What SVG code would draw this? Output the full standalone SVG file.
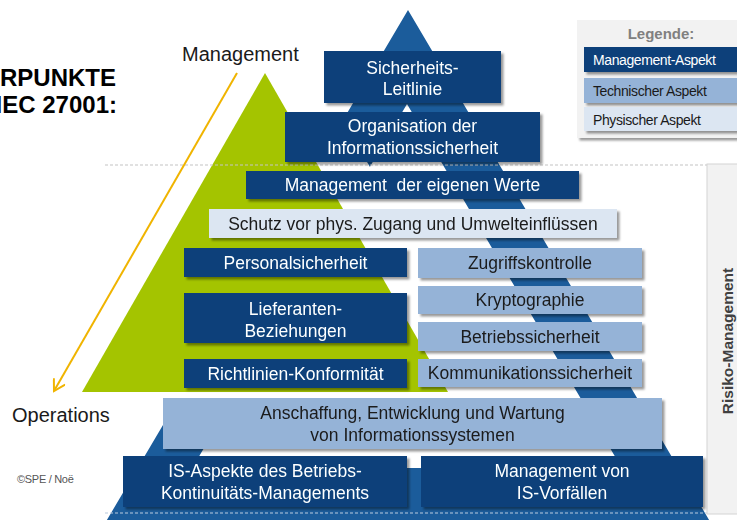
<svg xmlns="http://www.w3.org/2000/svg" width="737" height="520" viewBox="0 0 737 520">
<defs>
<style>
text{font-family:"Liberation Sans",Arial,sans-serif}
.mg{fill:#07407a}
.te{fill:#95b3d7}
.ph{fill:#dce6f2}
.box{filter:url(#sh)}
.tw{fill:#ffffff;font-size:17.5px;text-anchor:middle}
.td{fill:#1a1a1a;font-size:17.5px;text-anchor:middle}
.lg{font-size:14px;letter-spacing:-0.4px}
.dash{stroke:#c4c4c4;stroke-width:1.2;stroke-dasharray:3 2;fill:none}
</style>
<filter id="sh" x="-10%" y="-20%" width="130%" height="160%">
<feDropShadow dx="2.5" dy="2.5" stdDeviation="1.2" flood-color="#000" flood-opacity="0.4"/>
</filter>
<marker id="arr" viewBox="0 0 14 14" refX="12" refY="7" markerWidth="14" markerHeight="14" markerUnits="userSpaceOnUse" orient="auto">
<path d="M1,0.5 L12,7 L1,13.5" fill="none" stroke="#f0b400" stroke-width="2"/>
</marker>
</defs>
<rect width="737" height="520" fill="#ffffff"/>

<g id="background">
<path d="M408,10 L715,530 L101,530 Z M407,104 L621.8,468 L192.2,468 Z" fill="#1b5c9b" fill-rule="evenodd"/>
<polygon points="265,73 316,73 503.7,400 82,400 82,392" fill="#ffffff"/>
<polygon points="265,73 448,392 82,392" fill="#a4c400"/>
<line class="dash" x1="105" y1="165" x2="707" y2="165"/>
<line x1="105" y1="513" x2="707" y2="513" stroke="#b9c9dd" stroke-width="1.2" stroke-dasharray="3 2"/>
</g>

<g id="risk-panel">
<rect x="707" y="164" width="40" height="350" fill="#f2f2f2" stroke="#d4d4d4" stroke-width="1"/>
<text transform="translate(733,341) rotate(-90)" text-anchor="middle" font-size="15.5" font-weight="bold" fill="#404040">Risiko-Management</text>
</g>

<g id="connectors">
<line x1="237" y1="73" x2="54" y2="391" stroke="#f0b400" stroke-width="2" marker-end="url(#arr)"/>
</g>

<g id="labels">
<text x="116" y="86" text-anchor="end" font-size="24" font-weight="bold" fill="#000">RPUNKTE</text>
<text x="117" y="113" text-anchor="end" font-size="24" font-weight="bold" fill="#000">IEC 27001:</text>
<text x="182" y="61" font-size="20" fill="#1a1a1a">Management</text>
<text x="12" y="422" font-size="20" fill="#1a1a1a">Operations</text>
<text x="17" y="483" font-size="11" fill="#555" letter-spacing="-0.3">©SPE / Noë</text>
</g>

<g id="n-sicherheits-leitlinie" class="box"><rect class="mg" x="324" y="51" width="177" height="52"/><text class="tw" x="412.5" y="74">Sicherheits-</text><text class="tw" x="412.5" y="95">Leitlinie</text></g>
<g id="n-organisation" class="box"><rect class="mg" x="285" y="112" width="255" height="50"/><text class="tw" x="412.5" y="132">Organisation der</text><text class="tw" x="412.5" y="154">Informationssicherheit</text></g>
<g id="n-werte" class="box"><rect class="mg" x="246" y="171" width="333" height="28"/><text class="tw" x="412.5" y="191" xml:space="preserve">Management  der eigenen Werte</text></g>
<g id="n-schutz" class="box"><rect class="ph" x="209" y="209" width="408" height="29"/><text class="td" x="413" y="229.5">Schutz vor phys. Zugang und Umwelteinflüssen</text></g>
<g id="n-personal" class="box"><rect class="mg" x="184" y="248" width="223" height="29"/><text class="tw" x="295.5" y="268.5">Personalsicherheit</text></g>
<g id="n-zugriff" class="box"><rect class="te" x="418" y="248" width="224" height="30"/><text class="td" x="530" y="269">Zugriffskontrolle</text></g>
<g id="n-lieferanten" class="box"><rect class="mg" x="184" y="293" width="223" height="50"/><text class="tw" x="295.5" y="315">Lieferanten-</text><text class="tw" x="295.5" y="337">Beziehungen</text></g>
<g id="n-krypto" class="box"><rect class="te" x="418" y="286" width="224" height="28"/><text class="td" x="530" y="306">Kryptographie</text></g>
<g id="n-betrieb" class="box"><rect class="te" x="418" y="322" width="224" height="29"/><text class="td" x="530" y="342.5">Betriebssicherheit</text></g>
<g id="n-richtlinien" class="box"><rect class="mg" x="184" y="359" width="223" height="29"/><text class="tw" x="295.5" y="379.5">Richtlinien-Konformität</text></g>
<g id="n-kommunikation" class="box"><rect class="te" x="418" y="359" width="224" height="28"/><text class="td" x="530" y="379">Kommunikationssicherheit</text></g>
<g id="n-anschaffung" class="box"><rect class="te" x="163" y="398" width="499" height="51"/><text class="td" x="412.5" y="418.5">Anschaffung, Entwicklung und Wartung</text><text class="td" x="412.5" y="441">von Informationssystemen</text></g>
<g id="n-kontinuitaet" class="box"><rect class="mg" x="123" y="456" width="284" height="51"/><text class="tw" x="265" y="476.5">IS-Aspekte des Betriebs-</text><text class="tw" x="265" y="498.5">Kontinuitäts-Managements</text></g>
<g id="n-vorfaelle" class="box"><rect class="mg" x="421" y="456" width="282" height="51"/><text class="tw" x="562" y="476.5">Management von</text><text class="tw" x="562" y="498.5">IS-Vorfällen</text></g>

<g id="legend">
<rect x="577" y="20" width="175" height="118" fill="#f2f2f2" class="box"/>
<text x="661" y="39" text-anchor="middle" font-size="15" font-weight="bold" fill="#808080">Legende:</text>
<g class="box"><rect class="mg" x="584" y="47" width="165" height="25"/></g>
<text class="lg" x="593" y="65" fill="#ffffff">Management-Aspekt</text>
<g class="box"><rect class="te" x="584" y="78" width="165" height="25"/></g>
<text class="lg" x="593" y="96" fill="#1a1a1a">Technischer Aspekt</text>
<g class="box"><rect class="ph" x="584" y="107" width="165" height="24"/></g>
<text class="lg" x="593" y="124.5" fill="#1a1a1a">Physischer Aspekt</text>
</g>
</svg>
